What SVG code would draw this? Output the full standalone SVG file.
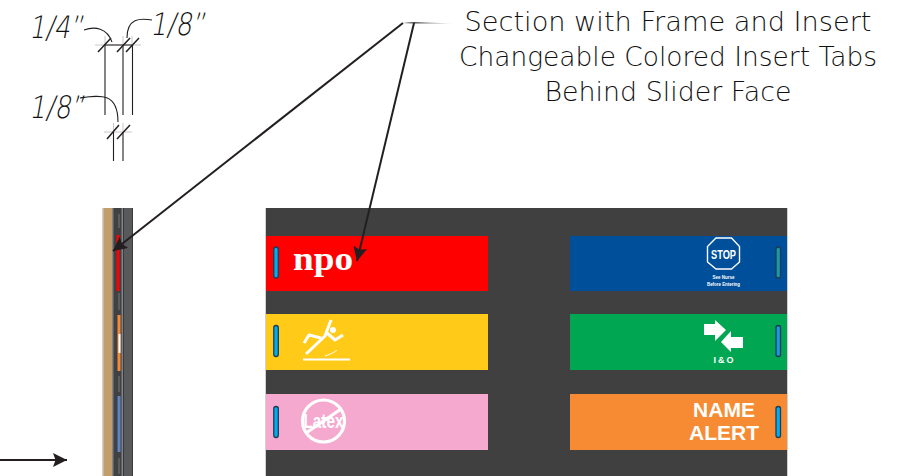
<svg xmlns="http://www.w3.org/2000/svg" width="908" height="476" viewBox="0 0 908 476">
<style>
.hand{font-family:"DejaVu Sans","Liberation Sans",sans-serif;font-weight:200;fill:#111}
.sec{font-size:27px;text-anchor:middle}
.dim{font-size:31px}
.ln{stroke:#231f20;stroke-width:1.100;fill:none}
.lt{stroke:#c8c8c8;stroke-width:1;fill:none}
.tick{stroke:#231f20;stroke-width:1.500;fill:none}
.lead{stroke:#231f20;stroke-width:2;fill:none}
.slot{fill:#00aeef;stroke:#1d3c56;stroke-width:1.300}
.wt{fill:#fff;font-family:"Liberation Sans",Arial,sans-serif;font-weight:700;text-anchor:middle}
.ws{stroke:#fff;fill:none}
</style>
<defs>
<marker id="ah" markerUnits="userSpaceOnUse" markerWidth="15" markerHeight="14" refX="14" refY="7" orient="auto"><path d="M0 0L14 7L0 14L2.500 7Z" fill="#231f20"/></marker>
<linearGradient id="fade" x1="0" x2="1" y1="0" y2="0"><stop offset="0" stop-color="#231f20"/><stop offset="1" stop-color="#231f20" stop-opacity="0.1"/></linearGradient>
</defs>
<rect width="908" height="476" fill="#fff"/>
<g id="dimensions">
<path class="lt" d="M95 45H141M105 36V45M123 36V45M132 36V45M104 132H132M113.500 123V132M123 123V132"/>
<path class="ln" d="M105 45H132M105 45V115M123 45V115M132.500 45V115M113.500 132V161M123 132V161"/>
<path class="tick" d="M98 52L111 38M117 52L130 38M126 52L139 38M107 139L119 125M117 139L130 125"/>
<path class="ln" d="M84 30C95 26 107 28 112 42M152 20C140 18 127 18 127 38M80 98C100 95 118 92 118 122"/>
<text class="hand dim" transform="translate(29 38) skewX(-10)" textLength="54" lengthAdjust="spacingAndGlyphs">1/4”</text>
<text class="hand dim" transform="translate(150 35) skewX(-10)" textLength="55" lengthAdjust="spacingAndGlyphs">1/8”</text>
<text class="hand dim" transform="translate(29 118) skewX(-10)" textLength="55" lengthAdjust="spacingAndGlyphs">1/8”</text>
</g>
<g id="section">
<rect x="102.500" y="208" width="10" height="268" fill="#c09f6c"/>
<rect x="102.500" y="208" width="1" height="268" fill="#d8d2c4"/>
<rect x="112.500" y="208" width="10" height="268" fill="#414042"/>
<rect x="112.500" y="208" width="1" height="268" fill="#808285"/>
<rect x="121.500" y="208" width="1.500" height="268" fill="#808285"/>
<rect x="123" y="208" width="10" height="268" fill="#58595b"/>
<rect x="123" y="208" width="1" height="268" fill="#3a3a3c"/>
<rect x="132" y="208" width="1" height="268" fill="#3a3a3c"/>
<path d="M119 214V228M119 293V310M119 376V392M119 458V474" stroke="#5c5d5f" stroke-width="2" fill="none"/>
<rect x="116.500" y="235" width="3" height="56" fill="#ff0000"/>
<rect x="117.500" y="315" width="3" height="56" fill="#f68b33"/>
<rect x="118.500" y="334" width="2" height="19" fill="#fff"/>
<rect x="117.500" y="396" width="3" height="56" fill="#5b84c4"/>
</g>
<g id="panel">
<rect x="265" y="208" width="523" height="268" fill="#d0d0d0"/>
<rect x="266" y="208" width="521" height="268" fill="#404040"/>
</g>
<g id="tab-npo">
<rect x="266" y="236" width="222" height="55" fill="#ff0000"/>
<rect class="slot" x="273.800" y="247" width="4.500" height="31" rx="2.200"/>
<text x="293" y="270" font-family="'Liberation Serif',serif" font-weight="700" font-size="34" fill="#fff" textLength="60" lengthAdjust="spacingAndGlyphs">npo</text>
</g>
<g id="tab-fall">
<rect x="266" y="314" width="222" height="56" fill="#ffcb18"/>
<rect class="slot" x="273.800" y="325.500" width="4.500" height="31" rx="2.200"/>
<circle cx="333" cy="330" r="3" fill="#fff"/>
<path class="ws" stroke-width="3" stroke-linejoin="round" d="M304 343L309 335L321 338M306 354L325 336L331 320M327 333L335 340L343 335"/>
<path class="ws" stroke-width="1" d="M325 356C331 354 335 352 337 350"/>
<path class="ws" stroke-width="1.800" d="M303 359.500H350"/>
</g>
<g id="tab-latex">
<rect x="266" y="394" width="222" height="56" fill="#f5a9cf"/>
<rect class="slot" x="273.800" y="406.500" width="4.500" height="31" rx="2.200"/>
<circle class="ws" cx="323.500" cy="421" r="21" stroke-width="3.200"/>
<path class="ws" stroke-width="3.200" d="M306 433L341 409"/>
<text class="wt" x="323.500" y="428" font-size="20" textLength="40" lengthAdjust="spacingAndGlyphs">Latex</text>
</g>
<g id="tab-stop">
<rect x="570" y="236" width="217" height="55" fill="#004f9a"/>
<rect class="slot" x="776" y="247" width="4.500" height="31" rx="2.200" style="fill:#1b98a8"/>
<path class="ws" stroke-width="1.400" d="M716 238H731.500L739.500 246.500V262L731.500 269H716L707.500 262V246.500Z"/>
<text class="wt" x="723.500" y="259" font-size="12.500" textLength="25" lengthAdjust="spacingAndGlyphs">STOP</text>
<text class="wt" x="723.500" y="279" font-size="4.800" textLength="22" lengthAdjust="spacingAndGlyphs">See Nurse</text>
<text class="wt" x="723.500" y="285.500" font-size="4.800" textLength="33" lengthAdjust="spacingAndGlyphs">Before Entering</text>
</g>
<g id="tab-io">
<rect x="570" y="314" width="217" height="56" fill="#00a651"/>
<rect class="slot" x="776" y="325.500" width="4.500" height="31" rx="2.200" style="fill:#1b98e0"/>
<path fill="#fff" d="M704 324H715V320L726 330L715 341V335H704Z"/>
<path fill="#fff" d="M743 337V348H731V352L721 342L731 331V337Z"/>
<text class="wt" x="723.500" y="363" font-size="9" textLength="20" lengthAdjust="spacing">I &amp; O</text>
</g>
<g id="tab-name">
<rect x="570" y="394" width="217" height="56" fill="#f68b33"/>
<rect class="slot" x="776" y="406.500" width="4.500" height="31" rx="2.200"/>
<text class="wt" x="724" y="417" font-size="21">NAME</text>
<text class="wt" x="724" y="440" font-size="21">ALERT</text>
</g>
<g id="connectors">
<path class="lead" d="M403 23L113 251" marker-end="url(#ah)"/>
<path class="lead" d="M414 23L357 261" marker-end="url(#ah)"/>
<path d="M403 23L414 22L453 23.500L414 23.500Z" fill="url(#fade)"/>
<path class="lead" d="M0 460H67" marker-end="url(#ah)"/>
</g>
<g id="caption">
<text class="hand sec" x="668" y="31" textLength="407" lengthAdjust="spacingAndGlyphs">Section with Frame and Insert</text>
<text class="hand sec" x="668" y="66" textLength="418" lengthAdjust="spacingAndGlyphs">Changeable Colored Insert Tabs</text>
<text class="hand sec" x="668" y="101" textLength="247" lengthAdjust="spacingAndGlyphs">Behind Slider Face</text>
</g>
</svg>
